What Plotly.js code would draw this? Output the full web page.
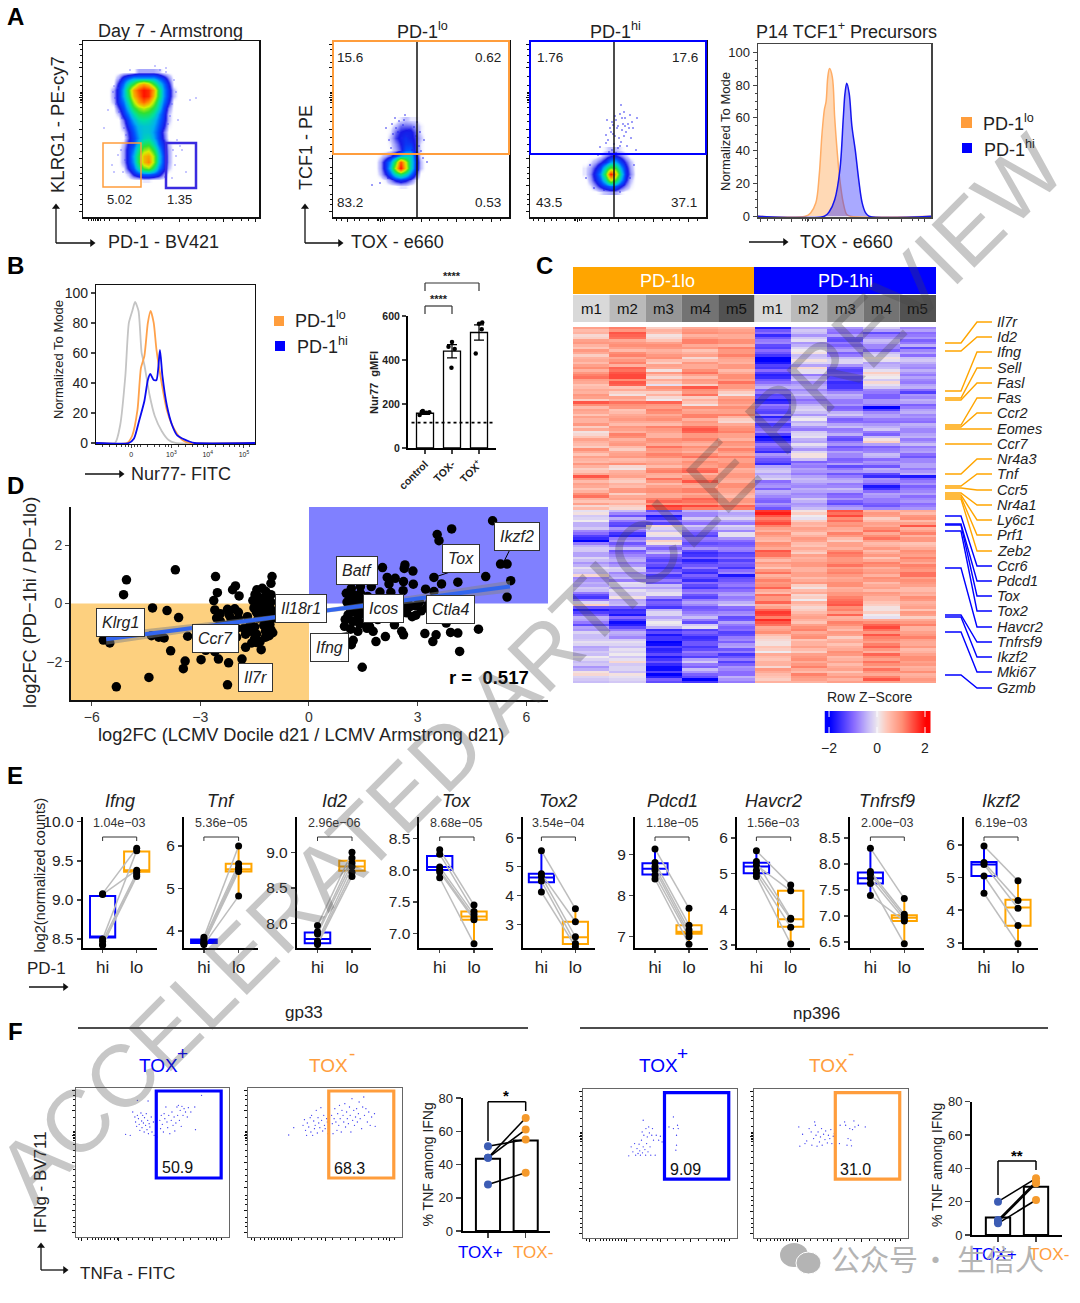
<!DOCTYPE html>
<html><head><meta charset="utf-8">
<script src="https://cdn.plot.ly/plotly-3.0.1.min.js"></script>
<style>html,body{margin:0;padding:0;background:#fff}#p{width:1080px;height:1303px}</style></head>
<body><div id="p"></div>
<script>
// ---------- DATA ----------
// A: density grids (channel positions, relative density 0-10)
const a1X=[108,113,118,123,128,133,138,143,148,153,158,163,168,173,178];
const a1Y=[72,78,84,90,96,102,108,114,120,126,132,138,144,150,156,162,168,174,180];
const a1Z=[
[0,0,0,0,0,0,.3,.3,.3,.3,.2,0,0,0,0],
[0,0,.3,1,1.5,2,2,2,2,2,1.5,1,.4,0,0],
[0,0,.8,1.7,3.2,4.5,6.5,7.5,6.5,4.5,2.8,1.7,.8,0,0],
[0,.3,1,2.2,4.5,7.5,9,10,9.5,7.5,4,2,1,.2,0],
[0,.3,1,2.2,4,7,8.5,10,9.5,7,4,2,1,.2,0],
[0,.2,1,1.7,3.2,5.5,7.5,8.5,7.5,5.5,3.2,1.7,.8,0,0],
[0,0,.6,1.3,2.5,4.2,5.2,5.8,5.2,4.2,2.7,1.3,.4,0,0],
[0,0,.2,1,1.8,3,4,4.2,4,3.2,2,1.1,.2,0,0],
[0,0,0,.5,1.3,2.2,3,3.2,3,2.5,1.7,1,.2,0,0],
[0,0,0,.3,1,1.7,2.4,2.6,2.6,2.2,1.5,.8,.1,0,0],
[0,0,0,.1,.7,1.4,2.2,2.6,2.6,2,1.3,.5,0,0,0],
[0,0,0,0,.6,1.2,2,2.8,3,2.2,1.3,.6,0,0,0],
[0,0,0,.2,.8,1.3,2.6,4,4.2,3,1.6,.9,.2,0,0],
[0,0,0,.3,1,1.8,3.5,5.3,5.8,4.2,2.2,1,.3,0,0],
[0,0,0,.3,1,2.2,4.2,7,7.5,5.5,2.6,1.2,.3,0,0],
[0,0,0,.3,1,2,4.2,7,8,5.5,2.5,1.2,.3,0,0],
[0,0,0,.1,.8,1.5,3,4.8,5.4,3.8,1.9,1,.2,0,0],
[0,0,0,0,.2,.8,1.2,1.6,1.6,1.4,1,.4,0,0,0],
[0,0,0,0,0,0,0,.1,.1,0,0,0,0,0,0]];
const a2X=[375,380,385,390,395,400,405,410,415,420,425];
const a2Y=[120,126,132,138,144,150,156,162,168,174,180,186];
const a2Z=[
[0,0,0,0,0,.1,.2,.1,.1,0,0],
[0,0,0,.05,.2,.5,.5,.5,.3,.1,0],
[0,0,0,.1,.5,.7,.8,.8,.5,.1,0],
[0,0,0,.2,.6,.8,1,.8,.6,.2,0],
[0,0,0,.1,.4,.7,1.1,1.1,.6,.1,0],
[0,0,0,.05,.3,.6,1.4,1.5,.6,.1,0],
[0,.1,.3,.6,1.2,2.2,2.8,2.8,1,.1,0],
[0,.3,1,2,4.5,9,6,3,1.2,.2,0],
[0,.3,1,2.5,6,10,6.5,3,1.1,.2,0],
[0,.2,.7,1.5,3,4,3,1.7,.7,0,0],
[0,0,.1,.4,.8,1,.8,.5,.1,0,0],
[0,0,0,0,0,.1,.1,0,0,0,0]];
const a3X=[585,590,595,600,605,610,615,620,625,630,635,640];
const a3Y=[150,156,162,168,174,180,186,192];
const a3Z=[
[0,0,0,0,.1,.2,.2,.1,0,0,0,0],
[0,0,0,.1,.4,.7,.8,.5,.2,0,0,0],
[0,.1,.3,.6,1,2,2.2,1.2,.6,.2,0,0],
[.1,.3,.7,1.3,3,5,4.5,2.2,.9,.3,0,0],
[.1,.4,1,2,4.5,10,7,3,1,.4,0,0],
[0,.3,.8,1.5,3,6,4.5,2.2,.8,.2,0,0],
[0,.1,.4,.8,1.2,1.6,1.4,.8,.4,.1,0,0],
[0,0,0,.1,.2,.3,.3,.1,0,0,0,0]];
// fringe events
const a1FringeX=[190,166,112,108,175,196,114,178,182,104,172,186,113,115,118,116,120,114,119,122,124,126,174,176,172,170,177,173,166,168,121,125,130,160,155,165,118,123,176,180];
const a1FringeY=[100,68,165,110,165,98,172,120,150,128,178,172,92,98,88,104,80,86,112,118,128,135,80,92,104,116,140,150,72,124,150,160,70,70,66,177,155,172,156,146];
const a2FringeX=[395,403,420,424,417,412,427,380,372,388,405,389,391,418,423,399,404,409,414,393,396,407,411,419,386,392,398,402,416,421];
const a2FringeY=[118,125,132,140,122,150,162,183,185,178,115,140,148,170,158,121,120,130,127,134,128,136,142,146,128,124,132,138,136,151];
const a3FringeX=[621,607,606,600,636,633,637,598,586,590,594,604,620,630,634,612,615,618,620,622,625,628,630,610,613,616,619,623,626,629,632,608,611,614,617,621,624,627,612,615,618,622,606,609,613,616,620,625,631,624];
const a3FringeY=[105,120,135,147,150,128,118,155,178,165,188,190,192,178,165,122,116,126,114,130,118,124,115,128,134,120,138,124,132,128,122,140,132,144,128,142,136,146,150,136,148,118,143,152,125,153,146,126,138,112];
// A4 histogram
const a4LoX=[632,770,785,800,810,818,825,830,835,840,848,855,862,870,880,890,900,1135];
const a4LoY=[0,0,2,8,25,50,65,70,85,90,85,60,40,22,8,1,0,0];
const a4HiX=[632,825,840,855,870,880,885,890,897,905,915,925,935,945,955,1135];
const a4HiY=[0,0,3,10,28,60,75,81,75,55,40,22,8,2,0,0];
// B1 histogram
const b1GreyX=[280,335,350,365,375,385,393,403,412,420,435,450,470,490,510,740];
const b1GreyY=[0,0,12,45,80,88,94,88,60,52,32,18,8,2,0,0];
const b1LoX=[280,370,385,400,410,420,430,438,447,455,470,485,500,515,530,550,740];
const b1LoY=[0,0,5,22,50,58,80,88,80,62,40,22,12,6,2,0,0];
const b1HiX=[280,375,390,405,420,430,437,447,455,465,472,485,500,515,530,550,565,740];
const b1HiY=[0,0,3,15,28,42,46,42,42,62,45,25,12,5,3,1,0,0];
// B2 bars
const b2Cats=['control','TOX-','TOX+'];
const b2Means=[158,440,525];
const b2Err=[5,30,35];
const b2PtX=[.8,.92,1.04,1.16,.88,1.98,1.87,2.1,2,2.88,3.0,3.12,3.1];
const b2PtY=[150,168,160,162,165,365,460,450,482,430,565,570,540];
// C heatmap columns (row z-score x10): rows A and B alternate down the heatmap
const loM1=[8,6,3,9,4,7,6,5,10,9,12,7,5,6,8,14,5,7,8,6,3,1,4,6,3,7,8,5,6,4,14,5,7,6,12,4,2, -1,-3,0,-5,-8,-14,-20,-5,-3,-6,-4,-5,-3,2,-7,-6,-4,-13,-9,3,-18,-11,-6,-13,-7,-4,-3,-2,-5,-4,-2,-3,-5,2,-3];
const loM2=[11,14,12,9,8,10,7,11,13,14,15,14,4,3,8,12,9,5,8,7,9,6,10,8,5,7,9,6,2,6,8,3,5,9,7,4,3, -4,-12,-9,-14,-10,-17,-7,-9,-12,-8,-5,-7,-3,-6,-9,-2,-1,-3,-6,-4,-16,-18,-14,-17,-9,-6,-3,-2,-1,0,-1,-3,-2,1,-2];
const loM3=[3,5,2,8,9,7,10,3,7,9,2,4,10,3,2,13,8,10,9,7,11,8,6,9,12,8,10,7,5,11,6,9,8,10,7,13,16, -13,-18,-9,2,-4,-1,3,-8,-7,-10,-14,-13,-12,-15,-9,-4,-3,-1,-14,-12,-5,-2,-3,-1,-16,-18,-15,-19,-17,-13,-15,-16,-19,-20,-11];
const loM4=[7,10,8,11,9,6,2,9,7,12,5,8,14,9,3,4,10,8,11,9,12,13,9,8,10,6,12,10,8,13,9,14,7,11,9,12,15, -5,-8,-7,-3,-9,-14,-10,-11,-13,-15,-17,-12,-14,-11,-16,-13,-10,-12,-9,-8,-11,-7,-9,-3,-14,-13,-15,-12,-13,-11,-6,-9,-4,-11,-20];
const loM5=[6,9,7,10,11,9,8,6,9,7,10,12,9,3,8,9,10,8,6,2,9,11,8,10,7,9,11,8,10,7,9,6,10,8,5,9,13, -3,-5,-6,-2,-8,-1,-10,-11,-9,-13,-14,-12,-10,-18,-12,-9,-10,-6,-8,-3,-11,-7,-12,-9,-10,-13,-8,-7,-12,-15,-9,-11,-8,-10,-7];
const hiM1=[-18,-10,-12,-8,-14,-12,-20,-18,-15,-14,-16,-10,-5,-9,-13,-16,-11,-14,-17,-9,-13,-8,-20,-14,-11,-16,-9,-13,-6,-3,-4,-10,-7,-5,-8,-11,-9, 16,14,13,11,6,8,5,9,14,12,5,7,9,6,11,10,7,12,9,6,13,15,17,12,8,5,2,1,3,7,4,6,9,5,3];
const hiM2=[-6,-4,-3,-7,-2,1,-3,-2,2,-1,-5,-8,-5,-6,-7,-8,-3,-4,-2,-5,-7,-3,-1,-6,-4,-2,1,-11,-9,-7,-6,-5,-8,-6,-7,-5,-6, 1,0,3,5,7,6,8,4,5,8,7,9,6,8,7,3,5,2,0,4,3,7,6,8,11,9,4,6,5,8,10,9,7,11,8];
const hiM3=[-7,-10,-12,-9,-8,-11,-4,-2,-12,-13,-14,-16,-15,-8,-6,-9,-11,-5,-7,-10,-4,-8,-11,-9,-12,-6,-8,-10,-13,-7,-9,-5,-8,-6,-10,-11,-8, 14,15,12,10,6,9,3,8,10,11,9,12,10,9,8,10,7,9,12,14,11,13,7,10,5,8,6,4,7,9,6,5,8,7,6];
const hiM4=[-3,-13,-7,-5,-8,-4,1,-6,-4,3,0,2,-3,-9,-11,-7,-20,-8,-6,-10,-5,-9,-4,3,-11,-8,-5,-7,-12,-6,-16,-8,-18,-10,-7,-9,-12, 6,8,5,7,12,10,8,6,5,9,7,10,8,6,9,7,5,8,6,3,1,0,7,13,12,14,10,11,9,13,8,10,12,7,14];
const hiM5=[-8,-10,-7,-9,-13,-6,-4,-5,-8,-7,-6,-9,-5,-14,-8,-6,-9,-5,-7,-10,-6,-8,-5,-7,-9,-6,-12,-8,-6,-7,-18,-9,-11,-8,-10,-7,-9, 7,9,5,14,8,6,9,5,10,8,9,11,9,12,10,8,5,6,9,7,4,8,7,11,6,9,8,7,5,8,10,9,7,6,9];
const loM1b=[5,2,8,6,9,3,7,8,6,11,8,4,7,9,3,10,8,4,6,9,7,2,8,5,10,4,6,9,3,7,9,8,4,10,6,8,5, 1,-2,-5,-3,-10,-16,-9,-3,-6,-2,-7,-1,-4,-8,-5,-3,-9,-15,-2,-12,-14,-5,-9,-6,-2,-4,-1,-6,-3,0,-4,-7,1,-2,-4];
const loM2b=[9,13,7,10,5,11,9,6,12,15,10,13,7,1,6,10,4,7,9,5,8,11,6,9,3,8,5,10,1,7,4,6,9,3,8,6,2, -8,-5,-13,-7,-15,-9,-12,-4,-10,-6,-9,-2,-8,-4,-1,-6,-3,1,-5,-12,-15,-10,-19,-13,-5,-8,-1,-4,-2,-3,2,-2,-4,-1,-3];
const loM3b=[6,1,4,10,6,9,5,8,1,5,7,-1,8,6,0,9,11,7,10,5,9,6,10,7,9,11,6,8,10,7,12,5,10,7,11,9,14, -9,-15,-14,-2,1,-6,1,-11,-4,-12,-11,-16,-9,-13,-12,-6,-1,-8,-11,-15,-2,-6,0,-5,-13,-15,-20,-14,-16,-18,-12,-19,-14,-17,-13];
const loM4b=[9,6,11,7,4,8,5,7,10,8,9,3,10,12,6,1,7,11,6,8,14,9,11,6,8,10,7,9,12,6,10,8,11,7,13,10,11, -8,-3,-10,-6,-12,-9,-13,-7,-16,-11,-14,-9,-16,-13,-10,-15,-8,-14,-6,-12,-9,-4,-13,-1,-11,-16,-12,-15,-9,-14,-3,-11,-7,-13,-15];
const loM5b=[8,7,10,6,9,11,7,9,5,10,8,9,6,1,10,7,8,11,3,7,10,8,6,9,11,7,8,10,6,9,7,10,8,6,9,7,11, -6,-2,-9,-4,-1,-7,-12,-8,-14,-10,-11,-15,-8,-13,-10,-12,-7,-9,-5,-10,-8,-13,-6,-11,-14,-9,-11,-6,-9,-12,-14,-7,-10,-5,-9];
const hiM1b=[-12,-16,-9,-13,-10,-15,-20,-14,-10,-17,-12,-7,-11,-14,-18,-9,-13,-8,-12,-15,-10,-14,-18,-9,-13,-7,-12,-16,-4,-6,-2,-8,-11,-6,-10,-7,-12, 18,11,15,8,10,6,10,7,12,8,9,4,12,8,9,13,5,9,13,8,16,11,14,7,10,3,1,4,0,5,6,2,7,4,6];
const hiM2b=[-3,-7,-1,-5,0,-4,1,-6,-1,-9,-3,-6,-8,-4,-10,-5,-2,-7,0,-3,-9,-2,-5,-1,-7,1,-4,-8,-6,-9,-4,-7,-5,-8,-3,-7,-4, 3,-1,6,8,4,9,5,7,3,6,9,6,8,5,9,1,7,3,6,2,5,8,4,10,7,10,6,8,3,9,7,11,5,9,6];
const hiM3b=[-9,-6,-13,-11,-6,-9,-2,-7,-14,-11,-13,-15,-12,-5,-9,-7,-10,-3,-11,-6,-9,-5,-13,-7,-10,-8,-11,-6,-9,-12,-6,-9,-4,-11,-7,-13,-6, 12,10,9,7,11,5,8,6,12,9,10,8,11,7,10,6,9,11,13,10,8,6,11,7,9,3,7,6,10,5,8,7,4,9,8];
const hiM4b=[-6,-9,-4,-8,-11,-2,-1,-5,-1,1,-3,-1,-8,-11,-7,-9,-14,-6,-9,-7,-3,-11,1,-6,-9,-4,-10,-8,-5,-13,-7,-11,-15,-6,-9,-11,-8, 9,3,8,10,7,12,5,9,7,4,11,6,9,10,5,8,9,6,4,1,3,-1,10,15,9,11,8,13,6,10,12,7,9,11,8];
const hiM5b=[-6,-9,-11,-5,-8,-10,-3,-7,-5,-9,-8,-6,-10,-7,-5,-11,-6,-8,-9,-5,-8,-6,-9,-4,-7,-10,-8,-6,-9,-5,-11,-7,-9,-6,-8,-10,-7, 5,10,8,6,11,9,4,7,9,11,7,10,12,8,9,5,7,10,6,8,9,3,9,6,8,11,7,9,6,10,8,6,10,7,8];
const geneNames=['Il7r','Id2','Ifng','Sell','Fasl','Fas','Ccr2','Eomes','Ccr7','Nr4a3','Tnf','Ccr5','Nr4a1','Ly6c1','Prf1','Zeb2','Ccr6','Pdcd1','Tox','Tox2','Havcr2','Tnfrsf9','Ikzf2','Mki67','Gzmb'];
const geneRowY=[343,351,391,398,400,425,427,429,444,474,486,488,493,495,497,499,516,524,525,531,568,615,617,632,675];
const geneLabelY=[322,337,352,368,383,398,413,429,444,459,474,490,505,520,535,551,566,581,596,611,627,642,657,672,688];
// D scatter
const dX=[-5.04,-5.12,-3.69,-2.58,-2.53,-2.63,-2.03,-2.11,-1.93,-1.02,-1.05,-1.44,-1.29,-1.19,-1.49,-1.39,-1.24,-1.14,-1.05,-1.55,-1.45,-1.30,-1.15,-1.05,-1.40,-1.25,-1.10,-1.52,-1.35,-1.20,-1.05,-1.45,-1.28,-1.12,-1.00,-1.70,-1.40,-1.20,-1.05,-1.62,-1.50,-1.25,-1.08,-1.80,-1.60,-1.45,-1.20,-1.05,-1.75,-1.50,-1.35,-1.20,-1.10,-1.00,-1.58,-1.45,-1.32,-1.75,-1.85,-2.22,-2.50,-2.98,-3.42,-3.47,-3.82,-4.42,-5.32,-2.25,-5.68,-5.50,-4.32,-3.92,-3.60,-4.35,-4.15,-4.00,-3.35,-3.00,-2.85,-2.60,-2.45,-2.60,-2.45,-2.55,-2.25,-2.05,-1.95,-2.20,-2.15,-1.95,-2.30,-2.00,-2.45,-2.20,-2.00,-2.60,-2.30,
5.07,3.94,3.54,3.59,5.29,5.47,5.57,5.47,4.88,4.11,3.45,3.66,2.87,2.65,2.63,2.03,2.16,2.38,2.61,2.21,2.88,1.96,2.26,2.60,3.22,3.45,1.72,1.42,1.17,1.03,1.22,1.42,1.13,1.32,1.62,1.08,1.22,1.37,.98,1.22,1.52,1.67,1.77,1.85,2.11,1.22,1.17,1.47,2.36,2.56,2.61,3.20,3.51,3.42,3.91,4.11,4.16,4.68,3.79,2.80,2.55,2.70,2.95,3.10,3.25,2.85,2.65,2.95,1.05,1.25,1.45,1.60,1.10,1.30,1.50,1.15,1.35,1.55,1.00,1.20,1.40,1.70,1.85,2.00,2.20,2.40,2.50,2.75,3.05,3.30,1.15,1.35,1.60,1.90,2.10];
const dY=[.81,.30,1.15,.92,.37,.10,.60,.47,.26,.92,.69,.47,.52,.41,.30,.22,.18,.24,.30,.10,.05,.08,.10,.05,-.05,-.08,-.05,-.15,-.20,-.18,-.20,-.30,-.35,-.35,-.38,-.45,-.50,-.55,-.55,-.70,-.80,-.75,-.72,-.85,-.95,-1.05,-.95,-.90,-1.05,-1.20,-1.30,-1.15,-1.10,-1.00,-1.35,-1.33,-1.58,-1.50,-1.90,-2.03,-1.90,-1.92,-1.97,-2.23,-1.62,-2.53,-2.85,-2.78,-1.25,-1.35,-.15,-.24,-.48,-1.10,-1.15,-1.18,-1.12,-1.30,-1.60,-1.65,-.60,-.22,-.35,-.50,-.20,-.18,-.30,-.40,-.55,-.50,-.75,-.85,-1.10,-1.30,-1.15,-1.40,-1.45,
2.83,2.55,2.36,2.15,1.35,1.35,.78,.22,.92,.73,.89,.67,1.11,1.32,1.20,1.23,.89,.86,.75,.67,.66,.39,.38,.44,.49,.41,.58,.58,.52,.35,.30,.35,.18,.13,.24,-.39,-.27,-.44,-.78,-.61,-.67,-.78,-.95,-1.30,-1.13,-1.26,-1.41,-2.18,-.73,-.95,-1.07,-1.03,-1.07,-1.30,-.99,-1.01,-1.64,-.88,-.67,-.10,-.22,-.32,-.40,-.25,-.15,-.45,-.05,-.08,.05,.10,.08,.02,-.05,-.10,-.12,-.22,-.30,-.28,-.55,-.60,-.70,-.50,-.42,-.30,-.35,-.20,-.45,-.02,.05,-.02,-.88,-.95,-.85,-.55,-.18];
const dFitX=[-5.6,5.55];
const dFitY=[-1.22,.58];
const dBandX=[-5.6,0,5.55,5.55,0,-5.6];
const dBandY=[-1.03,-.26,.78,.38,-.38,-1.41];
const dLabels=['Klrg1','Il18r1','Ccr7','Il7r','Ifng','Icos','Batf','Ctla4','Tox','Ikzf2'];
const dLabelX=[120,301,215,255,329,383,357,450,461,517];
const dLabelY=[622,608,638,677,647,608,570,609,558,536];
// E panels
const ePanels=[
{g:'Ifng',p:'1.04e\u221203',hi:[9.08,9.07,8.50,8.47,8.43,8.42],lo:[9.66,9.38,9.63,9.35,9.32,9.30],bh:[8.42,8.52,8.52,9.05,9.08],bl:[9.30,9.36,9.38,9.62,9.66],tv:[8.5,9,9.5,10],tt:['8.5','9.0','9.5','10.0'],r:[8.385,10.06],L:82.6,R:157,a:102.6,b:136.7},
{g:'Tnf',p:'5.36e\u221205',hi:[3.85,3.80,3.76,3.72,3.70,3.68],lo:[6.0,5.58,5.5,5.45,5.4,4.82],bh:[3.68,3.72,3.75,3.8,3.85],bl:[4.82,5.4,5.45,5.58,6.0],tv:[4,5,6],tt:['4','5','6'],r:[3.6,6.68],L:184,R:257.6,a:203.9,b:238.6},
{g:'Id2',p:'2.96e\u221206',hi:[7.97,7.88,7.85,7.75,7.72,7.70],lo:[9.0,8.92,8.85,8.8,8.72,8.66],bh:[7.70,7.72,7.78,7.87,7.97],bl:[8.66,8.74,8.8,8.88,9.0],tv:[8,8.5,9],tt:['8.0','8.5','9.0'],r:[7.652,9.497],L:296.8,R:371,a:317.5,b:352},
{g:'Tox',p:'8.68e\u221205',hi:[8.32,8.25,8.05,8.0,7.97,7.88],lo:[7.45,7.35,7.3,7.25,7.22,6.84],bh:[7.88,8.0,8.05,8.22,8.32],bl:[6.84,7.22,7.27,7.35,7.45],tv:[7,7.5,8,8.5],tt:['7.0','7.5','8.0','8.5'],r:[6.775,8.835],L:419.4,R:493,a:439.7,b:474},
{g:'Tox2',p:'3.54e\u221204',hi:[5.55,4.75,4.66,4.5,4.12],lo:[3.54,3.09,2.57,2.34,2.23],bh:[4.12,4.46,4.62,4.75,5.55],bl:[2.23,2.32,2.55,3.09,3.54],tv:[3,4,5,6],tt:['3','4','5','6'],r:[2.18,6.72],L:523,R:595,a:541.4,b:575.4},
{g:'Pdcd1',p:'1.18e\u221205',hi:[9.13,8.8,8.7,8.62,8.5,8.4],lo:[7.69,7.28,7.16,7.07,7.0,6.82],bh:[8.4,8.51,8.65,8.78,9.13],bl:[6.82,7.07,7.12,7.28,7.69],tv:[7,8,9],tt:['7','8','9'],r:[6.726,9.905],L:635,R:708,a:655,b:689},
{g:'Havcr2',p:'1.56e\u221203',hi:[5.64,5.34,5.24,5.1,5.01,4.92],lo:[4.68,3.75,4.52,3.72,3.5,3.03],bh:[4.92,5.01,5.2,5.31,5.64],bl:[3.03,3.51,3.72,4.52,4.68],tv:[3,4,5,6],tt:['3','4','5','6'],r:[2.916,6.59],L:737,R:810,a:756.4,b:790.7},
{g:'Tnfrsf9',p:'2.00e\u221203',hi:[8.3,7.85,7.8,7.72,7.62,7.39],lo:[7.33,7.03,6.98,6.93,6.46,6.9],bh:[7.39,7.62,7.72,7.83,8.3],bl:[6.46,6.9,6.96,7.01,7.33],tv:[6.5,7,7.5,8,8.5],tt:['6.5','7.0','7.5','8.0','8.5'],r:[6.38,8.9],L:849.6,R:923.6,a:870.4,b:904.3},
{g:'Ikzf2',p:'6.19e\u221203',hi:[5.97,5.46,5.4,5.05,4.52],lo:[4.9,4.3,4.06,3.53,2.97],bh:[4.52,5.05,5.4,5.48,5.97],bl:[2.97,3.52,4.08,4.32,4.9],tv:[3,4,5,6],tt:['3','4','5','6'],r:[2.84,6.86],L:964,R:1038,a:984,b:1018}];
// F flow events
const f1X=[352,365,372,378,380,383,385,388,390,392,395,397,398,400,402,404,405,408,410,412,414,416,418,420,424,426,430,432,385,415,448,450,452,455,458,460,462,465,468,470,473,476,480,482,485,488,490,493,496,498,500,503,505,508,510,513,516,520,525,528,535,546,548,565,440];
const f1Y=[402,405,335,350,365,378,345,355,372,390,338,362,382,345,368,395,352,375,340,388,360,400,370,380,350,395,365,405,300,302,360,385,345,372,395,340,355,320,365,382,345,400,360,335,375,350,392,368,320,345,315,360,330,378,318,345,325,335,350,322,335,320,388,285,410];
const f2X=[808,822,848,852,855,858,860,864,868,870,872,875,878,880,882,885,888,890,892,895,898,900,903,906,908,910,914,916,918,928,930,932,935,937,940,943,945,948,950,952,955,957,960,962,965,967,970,972,975,978,980,982,985,987,990,992,995,998,1000,1003,1005,1008,1012,1015,1018,1020,1024,1028,1032,1036,1040,1048,1050];
const f2Y=[404,382,375,358,390,405,368,380,352,395,345,405,362,385,375,330,398,352,368,382,322,360,392,345,375,385,355,365,400,345,370,400,355,325,365,390,340,375,315,355,395,330,345,365,310,380,335,355,370,320,345,395,295,360,330,375,350,325,365,340,305,355,385,320,290,345,325,365,335,375,350,340,378];
const f4X=[258,265,270,275,278,282,285,288,290,292,295,297,298,300,300,302,305,307,308,310,312,314,316,318,320,322,325,327,330,335,338,345,350,355,375,388,388,395,397,397,400,402];
const f4Y=[467,440,455,430,465,445,460,432,452,465,420,395,458,360,440,405,448,465,385,430,410,455,380,398,440,465,405,385,420,465,405,420,408,425,380,350,385,450,405,435,375,385];
const f5X=[752,755,763,770,775,782,788,790,795,798,800,802,805,808,812,815,818,820,824,828,830,835,838,842,845,848,852,855,870,872,885,888,892,895,900,903,905,908,912,915,925,945];
const f5Y=[380,438,402,430,422,385,395,435,415,365,375,405,438,395,425,410,385,435,402,418,392,428,405,415,388,430,408,400,430,375,365,375,435,415,385,420,437,388,362,380,375,380];
// F bars
const f3Means=[43.5,54.5];
const f3Plus=[51,44,44,28];
const f3Minus=[55,68,61,35];
const f6Means=[10.5,29];
const f6Plus=[20,9,8,7];
const f6Minus=[34,32,31,21];

// ---------- LAYOUT HELPERS ----------
const W=1080,H=1303,FF='"Liberation Sans",Arial,sans-serif';
const ORANGE='#ff9d3c',BLUE='#0000ff',AMBER='#ffa500',INK='#222';
const traces=[],shapes=[],ann=[],layout={width:W,height:H,margin:{l:0,r:0,t:0,b:0},showlegend:false,paper_bgcolor:'#fff',plot_bgcolor:'rgba(0,0,0,0)',font:{family:FF,color:INK},bargap:0};
let nAx=0;
function axes(l,r,t,b,xo,yo){nAx++;const s=nAx===1?'':String(nAx);
 const base={showgrid:false,zeroline:false,fixedrange:true,ticks:'',showticklabels:false,showline:false};
 layout['xaxis'+s]=Object.assign({},base,{domain:[l/W,r/W],anchor:'y'+s},xo);
 layout['yaxis'+s]=Object.assign({},base,{domain:[1-b/H,1-t/H],anchor:'x'+s},yo);
 return {x:'x'+s,y:'y'+s};}
function T(x,y,text,size,o={}){ann.push({xref:'paper',yref:'paper',x:x/W,y:1-y/H,text,showarrow:false,xanchor:o.xa||'center',yanchor:'middle',textangle:o.rot||0,font:{size,color:o.color||INK,family:o.family||FF},bgcolor:o.bg,bordercolor:o.bc,borderwidth:o.bw||0,borderpad:o.pad||0});}
function L(x0,y0,x1,y1,color,w,dash){shapes.push({type:'line',xref:'paper',yref:'paper',x0:x0/W,x1:x1/W,y0:1-y0/H,y1:1-y1/H,line:{color:color||'#000',width:w||1,dash:dash||'solid'}});}
function R(x0,y0,x1,y1,fill,lc,w){shapes.push({type:'rect',xref:'paper',yref:'paper',x0:x0/W,x1:x1/W,y0:1-y0/H,y1:1-y1/H,fillcolor:fill,line:{color:lc||'rgba(0,0,0,0)',width:w||0}});}
const NOFILL='rgba(0,0,0,0)';
const page=axes(0,W,0,H,{range:[0,W],visible:false},{range:[H,0],visible:false});
function arrow(x0,y0,x1,y1){
 traces.push({type:'scatter',mode:'lines',x:[x0,x1],y:[y0,y1],xaxis:page.x,yaxis:page.y,line:{color:'#111',width:1.3},hoverinfo:'skip'});
 const sym=x1>x0?'triangle-right':'triangle-up';
 traces.push({type:'scatter',mode:'markers',x:[x1],y:[y1],xaxis:page.x,yaxis:page.y,marker:{symbol:sym,size:7,color:'#111',line:{width:0}},hoverinfo:'skip'});
}
function lineOn(a,x0,x1,y0,y1,c,w){shapes.push({type:'line',xref:a.x,yref:a.y,x0,x1,y0,y1,line:{color:c,width:w}});}
// flow axis ticks as fractions of the axis
const fMajY=[.03,.18,.33,.5,.68,.85,.98],fMinY=[.07,.1,.13,.22,.25,.28,.37,.41,.45,.54,.58,.62,.65,.66,.67,.69,.7,.71,.75,.8,.88,.92,.95];
function fr(list,r){return list.map(f=>r[0]+f*(r[1]-r[0]));}
function flow(l,r,t,b,xr,yr,lineC,lineW,xMaj,xMin){
 const st={showline:true,mirror:true,linecolor:lineC,linewidth:lineW,ticks:'outside',ticklen:3,tickwidth:1,tickcolor:'#111',tickmode:'array'};
 return axes(l,r,t,b,Object.assign({range:xr,tickvals:fr(xMaj,xr),minor:{tickmode:'array',tickvals:fr(xMin,xr),ticks:'outside',ticklen:2,tickwidth:1,tickcolor:'#111'}},st),
  Object.assign({range:yr,tickvals:fr(fMajY,yr),minor:{tickmode:'array',tickvals:fr(fMinY,yr),ticks:'outside',ticklen:2,tickwidth:1,tickcolor:'#111'}},st));
}
const flowCS=[[0,'rgba(255,255,255,0)'],[.015,'rgba(140,140,255,.45)'],[.07,'#1818e6'],[.14,'#0050ff'],[.22,'#00b0f0'],[.32,'#00e0a0'],[.45,'#30e030'],[.6,'#d8f000'],[.78,'#ff9000'],[1,'#ff1000']];
function dens(a,x,y,z){traces.push({type:'heatmap',x,y,z,xaxis:a.x,yaxis:a.y,zsmooth:'best',zmin:0,zmax:10,colorscale:flowCS,showscale:false,hoverinfo:'skip'});}
function dots(a,x,y,c,s){traces.push({type:'scatter',mode:'markers',x,y,xaxis:a.x,yaxis:a.y,marker:{color:c,size:s},hoverinfo:'skip'});}

// ---------- PANEL A ----------
const a1=flow(83,259,41,217,[83,259],[217,41],'#111',1.5,[.3,.55,.8,.98],[.03,.05,.06,.07,.08,.09,.1,.12,.15,.2,.25,.35,.4,.45,.6,.65,.7,.75,.85,.9,.94]);
dens(a1,a1X,a1Y,a1Z);dots(a1,a1FringeX,a1FringeY,'rgba(60,60,255,.7)',1.5);
R(103,143,141,187,NOFILL,ORANGE,1.5);R(166,143,196,188,NOFILL,'#3a2be0',2.5);
T(119,199,'5.02',13);T(179,199,'1.35',13);T(170,31,'Day 7 - Armstrong',18);
T(57,125,'KLRG1 - PE-cy7',18.5,{rot:-90});T(163,242,'PD-1 - BV421',18);
arrow(56,243,92,243);arrow(56,243,56,207);

const a2=flow(333,509,41,217,[333,509],[217,41],'#111',1.5,[.08,.27,.5,.7,.9],[.02,.05,.12,.15,.2,.25,.26,.27,.28,.29,.35,.4,.45,.55,.6,.65,.75,.8,.85,.95]);
dens(a2,a2X,a2Y,a2Z);dots(a2,a2FringeX,a2FringeY,'#2020f0',1.6);
L(417,41,417,217,'#111',1.5);R(333,41,509,154,NOFILL,ORANGE,2);
T(350,58,'15.6',13.5);T(488,58,'0.62',13.5);T(350,202,'83.2',13.5);T(488,202,'0.53',13.5);
T(422,30,'PD-1<sup>lo</sup>',18);T(306,148,'TCF1 - PE',18,{rot:-90});T(397,242,'TOX - e660',18);
arrow(305,243,340,243);arrow(305,243,305,207);

const a3=flow(530,706,41,217,[530,706],[217,41],'#111',1.5,[.08,.27,.5,.7,.9],[.02,.05,.12,.15,.2,.25,.26,.27,.28,.29,.35,.4,.45,.55,.6,.65,.75,.8,.85,.95]);
dens(a3,a3X,a3Y,a3Z);dots(a3,a3FringeX,a3FringeY,'#2020f0',1.6);
L(614,41,614,217,'#111',1.5);R(530,41,706,154,NOFILL,BLUE,2);
T(550,58,'1.76',13.5);T(685,58,'17.6',13.5);T(549,202,'43.5',13.5);T(684,202,'37.1',13.5);
T(615,30,'PD-1<sup>hi</sup>',18);

const a4=axes(758,931,44,217,{range:[632,1135],showline:true,mirror:true,linecolor:'#444',linewidth:1.5,ticks:'outside',ticklen:3,tickvals:[640,730,775,820,905,978,1048,1115],minor:{tickmode:'array',tickvals:[660,680,700,760,770,780,790,800,845,870,890,950,1010,1080,1100],ticks:'outside',ticklen:2}},
 {range:[-.5,105],showline:true,mirror:true,linecolor:'#444',linewidth:1.5,ticks:'outside',ticklen:4,showticklabels:true,tickvals:[0,20,40,60,80,100],tickfont:{size:13,color:INK},minor:{tickmode:'array',tickvals:[5,10,15,25,30,35,45,50,55,65,70,75,85,90,95],ticks:'outside',ticklen:2}});
traces.push({type:'scatter',mode:'lines',x:a4LoX,y:a4LoY,xaxis:a4.x,yaxis:a4.y,fill:'tozeroy',fillcolor:'rgba(255,160,70,.4)',line:{color:'#ffad66',width:1.5,shape:'spline'},hoverinfo:'skip'});
traces.push({type:'scatter',mode:'lines',x:a4HiX,y:a4HiY,xaxis:a4.x,yaxis:a4.y,fill:'tozeroy',fillcolor:'rgba(40,40,255,.4)',line:{color:'#1515ee',width:1.5,shape:'spline'},hoverinfo:'skip'});
T(846,30,'P14 TCF1<sup>+</sup> Precursors',18);T(726,132,'Normalized To Mode',13,{rot:-90});
T(800,242,'TOX - e660',18,{xa:'left'});arrow(749,242,785,242);
R(961,117,972,128,'#ff9d3c');R(962,143,972,153,BLUE);
T(983,122,'PD-1<sup>lo</sup>',18,{xa:'left'});T(984,148,'PD-1<sup>hi</sup>',18,{xa:'left'});

// ---------- PANEL B ----------
const b1=axes(96,255,285,444,{range:[280,740],showline:true,mirror:true,linecolor:'#111',linewidth:1.2,ticks:'outside',ticklen:3,showticklabels:true,tickvals:[382,498,603,708],ticktext:['0','10<sup>3</sup>','10<sup>4</sup>','10<sup>5</sup>'],tickfont:{size:7,color:INK},minor:{tickmode:'array',tickvals:[300,320,340,355,365,375,390,400,410,430,450,465,480,490,520,540,560,575,590,625,650,665,680,695,725],ticks:'outside',ticklen:2}},
 {range:[-.67,105.3],showline:true,mirror:true,linecolor:'#111',linewidth:1.2,ticks:'outside',ticklen:4,tickwidth:2,showticklabels:true,tickvals:[0,20,40,60,80,100],tickfont:{size:14,color:INK}});
[[b1GreyX,b1GreyY,'#c4c4c4'],[b1LoX,b1LoY,'#ffa14a'],[b1HiX,b1HiY,'#0a0af0']].forEach(c=>traces.push({type:'scatter',mode:'lines',x:c[0],y:c[1],xaxis:b1.x,yaxis:b1.y,line:{color:c[2],width:1.8,shape:'spline',smoothing:.6},hoverinfo:'skip'}));
T(58,360,'Normalized To Mode',13,{rot:-90});T(181,474,'Nur77- FITC',18);arrow(85,474,121,474);
R(274,316,284,326,'#ff9d3c');R(275,341,285,351,BLUE);
T(295,320,'PD-1<sup>lo</sup>',18,{xa:'left'});T(297,345,'PD-1<sup>hi</sup>',18,{xa:'left'});

const b2=axes(408,496,316,448,{range:[.37,3.63],showline:true,linecolor:'#000',linewidth:2,ticks:'outside',ticklen:4,tickwidth:2,tickvals:[1,2,3],showticklabels:true,ticktext:b2Cats.map(c=>c==='TOX+'?'<b>TOX<sup>+</sup></b>':'<b>'+c+'</b>'),tickangle:-45,tickfont:{size:10.5,color:INK}},
 {range:[0,600],showline:true,linecolor:'#000',linewidth:2,ticks:'outside',ticklen:4,tickwidth:2,tickvals:[0,200,400,600],showticklabels:true,ticktext:['<b>0</b>','<b>200</b>','<b>400</b>','<b>600</b>'],tickfont:{size:10.5,color:INK}});
traces.push({type:'bar',x:[1,2,3],y:b2Means,width:.63,xaxis:b2.x,yaxis:b2.y,marker:{color:'#fff',line:{color:'#000',width:1.3}},error_y:{type:'data',array:b2Err,color:'#000',thickness:1.2,width:5},hoverinfo:'skip'});
traces.push({type:'scatter',mode:'lines',x:[.5,3.55],y:[115,115],xaxis:b2.x,yaxis:b2.y,line:{color:'#000',width:1.8,dash:'dot'},hoverinfo:'skip'});
dots(b2,b2PtX,b2PtY,'#000',4.5);
T(374,382,'<b>Nur77  gMFI</b>',11,{rot:-90});
[[425,479,283,291,'****',452,276],[425,452,306,314,'****',439,299]].forEach(v=>{L(v[0],v[3],v[0],v[2],'#333',1.2);L(v[0],v[2],v[1],v[2],'#333',1.2);L(v[1],v[2],v[1],v[3],'#333',1.2);T(v[5],v[6],'<b>'+v[4]+'</b>',11);});

// ---------- PANEL C ----------
const colsA=[loM1,loM2,loM3,loM4,loM5,hiM1,hiM2,hiM3,hiM4,hiM5];
const colsB=[loM1b,loM2b,loM3b,loM4b,loM5b,hiM1b,hiM2b,hiM3b,hiM4b,hiM5b];
const heatZ=[];
loM1.forEach((_,i)=>{heatZ.push(colsA.map(c=>c[i]));heatZ.push(colsB.map(c=>c[i]));});
const rowIdx=heatZ.map((_,i)=>i);
const zCS=[[0,'#0000ff'],[.25,'#8a6cff'],[.4,'#c9bdf7'],[.5,'#efeaee'],[.6,'#ffc4b5'],[.75,'#ff8f76'],[1,'#ff0000']];
const c1=axes(573,936,327,683,{range:[-.5,9.5]},{range:[rowIdx.length-.5,-.5]});
traces.push({type:'heatmap',z:heatZ,x:colsA.map((_,i)=>i),y:rowIdx,xaxis:c1.x,yaxis:c1.y,zmin:-20,zmax:20,colorscale:zCS,showscale:false,hoverinfo:'skip'});
R(573,267,754,294,AMBER);R(754,267,936,294,BLUE);
T(667,281,'PD-1lo',18,{color:'#fff'});T(845,281,'PD-1hi',18,{color:'#fff'});
const mGrey=['#d9d9d9','#bababa','#969696','#737373','#525252'];
for(let g=0;g<2;g++)for(let m=0;m<5;m++){const cw=(936-573)/10,x0=573+(g*5+m)*cw;R(x0,295,x0+cw,322,mGrey[m]);T(x0+cw/2,308,'m'+(m+1),15,{color:'#111'});}
geneNames.forEach((g,i)=>{const c=i<16?AMBER:BLUE;
 traces.push({type:'scatter',mode:'lines',x:[945,961,977,992],y:[geneRowY[i],geneRowY[i],geneLabelY[i],geneLabelY[i]],xaxis:page.x,yaxis:page.y,line:{color:c,width:1.4},hoverinfo:'skip'});
 T(997,geneLabelY[i],'<i>'+g+'</i>',14.5,{xa:'left'});});
T(869,697,'Row Z\u2212Score',14);
const cbX=[-2.2,-2,-1.5,-1,-.5,0,.5,1,1.5,2,2.25];
const cbZ=[-20,-20,-15,-10,-5,0,5,10,15,20,20];
const cb=axes(824.5,931,711,733,{range:[-2.19,2.25],showticklabels:true,tickvals:[-2,0,2],ticktext:['\u22122','0','2'],tickfont:{size:14,color:INK},ticklabelstandoff:5},{range:[0,1]});
traces.push({type:'heatmap',x:cbX,y:[0,1],z:[cbZ,cbZ],xaxis:cb.x,yaxis:cb.y,zsmooth:'best',zmin:-20,zmax:20,colorscale:zCS,showscale:false,hoverinfo:'skip'});
[-2,0,2].forEach(v=>traces.push({type:'scatter',mode:'lines',x:[v,v],y:[0,1],xaxis:cb.x,yaxis:cb.y,line:{color:'#fff',width:1,dash:'6px,10px'},hoverinfo:'skip'}));

// ---------- PANEL D ----------
const d=axes(70.7,548,507,700,{range:[-6.58,6.6],showline:true,linecolor:'#111',linewidth:1.6,ticks:'outside',ticklen:4,showticklabels:true,tickvals:[-6,-3,0,3,6],ticktext:['\u22126','\u22123','0','3','6'],tickfont:{size:14,color:'#333'}},
 {range:[-3.3,3.3],showline:true,linecolor:'#111',linewidth:1.6,ticks:'outside',ticklen:4,showticklabels:true,tickvals:[-2,0,2],ticktext:['\u22122','0','2'],tickfont:{size:14,color:'#333'}});
shapes.push({type:'rect',xref:d.x,yref:d.y,x0:-6.58,x1:0,y0:-3.3,y1:0,fillcolor:'#fdd07f',line:{width:0},layer:'below'});
shapes.push({type:'rect',xref:d.x,yref:d.y,x0:0,x1:6.6,y0:0,y1:3.3,fillcolor:'#8080ff',line:{width:0},layer:'below'});
dots(d,dX,dY,'#000',9.5);
traces.push({type:'scatter',mode:'lines',x:dBandX,y:dBandY,fill:'toself',fillcolor:'rgba(130,130,130,.5)',line:{width:0},xaxis:d.x,yaxis:d.y,hoverinfo:'skip'});
traces.push({type:'scatter',mode:'lines',x:dFitX,y:dFitY,line:{color:'#3366ee',width:4},xaxis:d.x,yaxis:d.y,hoverinfo:'skip'});
[[5.55,5.35,1.85,1.35],[4.0,3.45,1.12,.89],[1.05,.75,-1.0,-1.05]].forEach(s=>traces.push({type:'scatter',mode:'lines',x:[s[0],s[1]],y:[s[2],s[3]],line:{color:'#000',width:1},xaxis:d.x,yaxis:d.y,hoverinfo:'skip'}));
dLabels.forEach((g,i)=>T(dLabelX[i],dLabelY[i],'<i>'+g+'</i>',16,{bg:'#fff',bc:'#333',bw:1,pad:5}));
T(489,677,'<b>r =  0.517</b>',18.5,{color:'#000'});
T(301,735,'log2FC (LCMV Docile d21 / LCMV Armstrong d21)',18.2);
T(30,603,'log2FC (PD\u22121hi / PD\u22121lo)',18.2,{rot:-90});

// ---------- PANEL E ----------
ePanels.forEach(p=>{
 const c=p.b-p.a,xr=[1-(p.a-p.L)/c,2+(p.R-p.b)/c];
 const a=axes(p.L,p.R,817,948,{range:xr,showline:true,linecolor:'#000',linewidth:2,ticks:'outside',ticklen:3,tickwidth:1.5,showticklabels:true,tickvals:[1,2],ticktext:['hi','lo'],tickfont:{size:17,color:INK},ticklabelstandoff:0},
  {range:p.r,showline:true,linecolor:'#000',linewidth:2,ticks:'outside',ticklen:4,tickwidth:1.5,showticklabels:true,tickvals:p.tv,ticktext:p.tt,tickfont:{size:15.5,color:INK}});
 [[1,p.bh,BLUE],[2,p.bl,AMBER]].forEach(b=>traces.push({type:'box',x:[b[0]],lowerfence:[b[1][0]],q1:[b[1][1]],median:[b[1][2]],q3:[b[1][3]],upperfence:[b[1][4]],width:.74,whiskerwidth:0,boxpoints:false,fillcolor:'rgba(255,255,255,0)',line:{color:b[2],width:2},xaxis:a.x,yaxis:a.y,hoverinfo:'skip'}));
 const lx=[],ly=[];p.hi.forEach((h,i)=>{lx.push(1,2,null);ly.push(h,p.lo[i],null);});
 traces.push({type:'scatter',mode:'lines',x:lx,y:ly,line:{color:'#bdbdbd',width:1.5},xaxis:a.x,yaxis:a.y,hoverinfo:'skip'});
 dots(a,p.hi.map(()=>1),p.hi,'#000',7);dots(a,p.lo.map(()=>2),p.lo,'#000',7);
 const mid=(p.a+p.b)/2;
 T(mid,800.5,'<i>'+p.g+'</i>',18);T(mid,823,p.p,12.5,{color:'#333'});
 L(p.a,841,p.a,837,'#333',1);L(p.a,837,p.b,837,'#333',1);L(p.b,837,p.b,841,'#333',1);
});
T(39.6,875,'log2(normalized counts)',14.5,{rot:-90});T(46,968,'PD-1',17);arrow(29,987,65,987);

// ---------- PANEL F ----------
const fMajX=[.04,.28,.5,.7,.92];
const fMinX=[.02,.08,.11,.13,.15,.17,.19,.21,.23,.25,.27,.33,.37,.41,.45,.48,.55,.6,.65,.75,.8,.85,.88,.9,.95];
function gatePanel(l,r,t,b,xr,yr,px,py,g,c,label,lx,ly){
 const a=flow(l,r,t,b,xr,yr,'#666',1,fMajX,fMinX);
 dots(a,px,py,'#3535f0',1.3);
 const toX=v=>l+(v-xr[0])/(xr[1]-xr[0])*(r-l),toY=v=>t+(v-yr[1])/(yr[0]-yr[1])*(b-t);
 R(toX(g[0]),toY(g[2]),toX(g[1]),toY(g[3]),NOFILL,c,3.2);
 T(lx,ly,label,16,{color:'#111'});
}
gatePanel(75.7,229,1088,1237,[212,642],[710,263],f1X,f1Y,[438,620,272,533],BLUE,'50.9',177,1167);
gatePanel(248,402,1088,1237,[694,1125],[710,263],f2X,f2Y,[920,1102,272,533],ORANGE,'68.3',349,1168);
gatePanel(583.4,737,1089,1238,[126,573],[714,266],f4X,f4Y,[362,549,277,537],BLUE,'9.09',685,1169);
gatePanel(754,908,1089,1238,[622,1069],[714,266],f5X,f5Y,[858,1045,277,537],ORANGE,'31.0',855.4,1169);
function pairBar(l,r,t,b,xr,means,plus,minus,stars,st,br,lbl){
 const a=axes(l,r,t,b,{range:xr,showline:true,linecolor:'#000',linewidth:2,ticks:'outside',ticklen:5,tickwidth:1.5,tickvals:[1,2]},
  {range:[0,80],showline:true,linecolor:'#000',linewidth:2,ticks:'outside',ticklen:5,tickwidth:1.5,showticklabels:true,tickvals:[0,20,40,60,80],tickfont:{size:13,color:INK}});
 traces.push({type:'bar',x:[1,2],y:means,width:.64,xaxis:a.x,yaxis:a.y,marker:{color:'#fff',line:{color:'#000',width:2}},hoverinfo:'skip'});
 const lx=[],ly=[];plus.forEach((v,i)=>{lx.push(1,2,null);ly.push(v,minus[i],null);});
 traces.push({type:'scatter',mode:'lines',x:lx,y:ly,line:{color:'#000',width:1.6},xaxis:a.x,yaxis:a.y,hoverinfo:'skip'});
 dots(a,plus.map(()=>1),plus,'#3c5cb4',8);dots(a,minus.map(()=>2),minus,'#f59a2c',8);
 L(br[0],br[3],br[0],br[2],'#000',1.5);L(br[0],br[2],br[1],br[2],'#000',1.5);L(br[1],br[2],br[1],br[4],'#000',1.5);
 T(st[0],st[1],'<b>'+stars+'</b>',15,{color:'#000'});
 T(lbl[0],lbl[2],'TOX+',17,{color:BLUE});T(lbl[1],lbl[2],'TOX-',17,{color:ORANGE});
 T(lbl[3],1165,'% TNF among IFNg',14,{rot:-90});
}
pairBar(462.5,550,1098,1231,[.324,2.645],f3Means,f3Plus,f3Minus,'*',[506,1095],[488,525.7,1101.7,1141,1111],[480,533,1252,427.5]);
pairBar(972,1061.7,1101.7,1235,[.316,2.676],f6Means,f6Plus,f6Minus,'**',[1017,1155],[998,1036,1161,1195,1170],[994.5,1048.6,1254,937]);
T(303.6,1012,'gp33',17);L(78,1028,528,1028,'#111',1.4);
T(816,1014,'np396',17);L(580,1028,1048,1028,'#111',1.4);
[[158,182,BLUE,'TOX','+'],[328.6,352,ORANGE,'TOX','-'],[658,682,BLUE,'TOX','+'],[828.6,851,ORANGE,'TOX','-']].forEach(v=>{T(v[0],1065,v[3],19,{color:v[2]});T(v[1],1053,v[4],19,{color:v[2]});});
T(40,1182,'IFNg - BV711',17,{rot:-90});T(127.5,1273,'TNFa - FITC',17);
arrow(41,1270,41,1246);arrow(41,1270,65,1270);

// panel letters
[['A',15,17],['B',15,265],['C',544,265],['D',15,485],['E',15,775],['F',15,1031]].forEach(v=>T(v[1],v[2],'<b>'+v[0]+'</b>',24,{color:'#000'}));

// watermarks
T(530,668,'ACCELERATED ARTICLE PREVIEW',88,{rot:-45,color:'rgba(70,70,70,.3)'});
shapes.push({type:'circle',xref:'paper',yref:'paper',x0:780/W,x1:808/W,y0:1-1267/H,y1:1-1243/H,fillcolor:'#b4b4b4',line:{width:0}});
shapes.push({type:'circle',xref:'paper',yref:'paper',x0:796/W,x1:821/W,y0:1-1274/H,y1:1-1252/H,fillcolor:'#b4b4b4',line:{color:'#fff',width:1}});
const CJK='"Noto Sans CJK SC",sans-serif';
T(874,1258,'公众号',29,{color:'#b4b4b4',family:CJK});T(935,1258,'·',29,{color:'#b4b4b4',family:CJK});T(1000,1258,'生信人',29,{color:'#b4b4b4',family:CJK});

layout.shapes=shapes;layout.annotations=ann;
Plotly.newPlot('p',traces,layout,{staticPlot:true,displayModeBar:false});
</script></body></html>
